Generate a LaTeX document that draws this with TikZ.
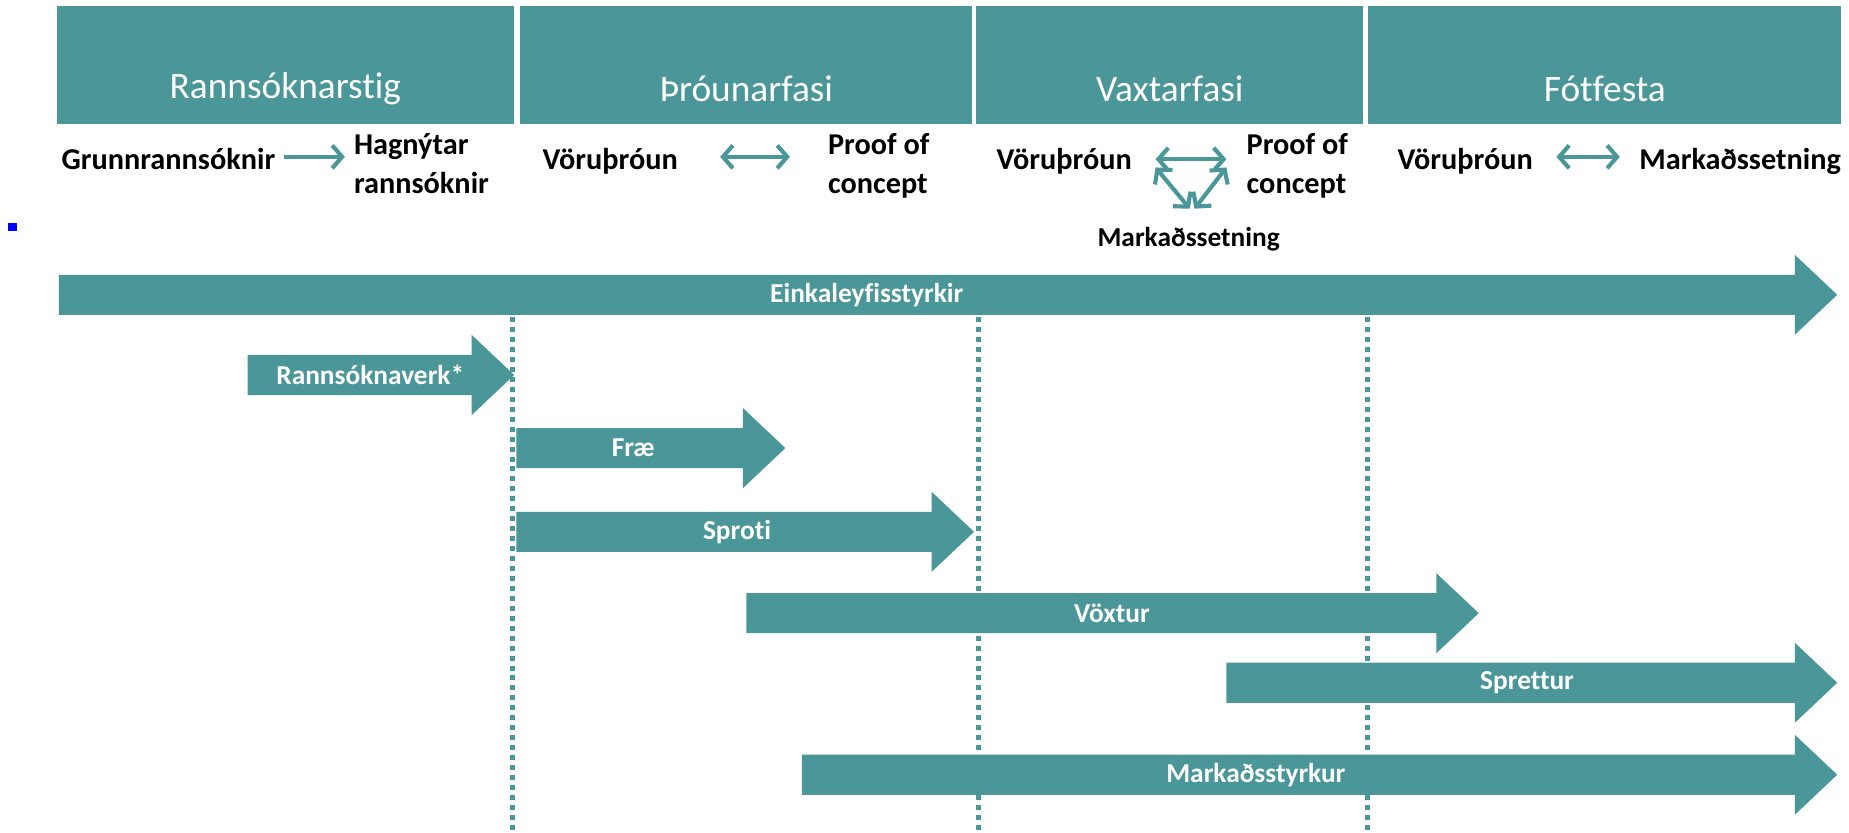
\documentclass[tikz,border=0pt]{standalone}
\usepackage{fontspec}
\setmainfont{Carlito}[Ligatures=NoCommon]
\usetikzlibrary{arrows.meta, positioning}
\definecolor{tealbar}{RGB}{74,150,153}

\begin{document}
\begin{tikzpicture}[x=0.01cm, y=-0.01cm, >={Straight Barb[length=2.4pt, width=5.5pt]},
  phase/.style={text=white, font=\fontsize{9}{10}\selectfont},
  stagetext/.style={font=\bfseries\fontsize{7.3}{9.4}\selectfont, align=left, inner sep=1pt},
  flow/.style={tealbar, line width=1pt},
  barlabel/.style={text=white, font=\bfseries\fontsize{6.6}{7}\selectfont},
  divider/.style={tealbar, line width=1.2pt, dash pattern=on 1.2pt off 1.2pt}]
  \useasboundingbox (0,0) rectangle (1568,706);

  % phases
  \fill[tealbar] (48,5) rectangle (436,105);
  \fill[tealbar] (441,5) rectangle (824,105);
  \fill[tealbar] (828,5) rectangle (1156,105);
  \fill[tealbar] (1160,5) rectangle (1561,105);
  \node[phase] (rann) at (242,75) {Rannsóknarstig};
  \node[phase] (throun) at (633,75) {Þróunarfasi};
  \node[phase] (vaxtar) at (992,75) {Vaxtarfasi};
  \node[phase] (fot) at (1361,75) {Fótfesta};

  \fill[blue] (7,189) rectangle (14,196);

  % what happens in each phase
  \node[stagetext, anchor=west] (grunn) at (48,135) {Grunnrannsóknir};
  \node[stagetext, anchor=west] (hagnyt) at (296,139) {Hagnýtar\\rannsóknir};
  \node[stagetext, anchor=west] (voru1) at (456,137) {Vöruþróun};
  \node[stagetext, anchor=west] (proof1) at (698,141) {Proof of\\concept};
  \node[stagetext, anchor=west] (voru2) at (841,137) {Vöruþróun};
  \node[stagetext, anchor=west] (proof2) at (1053,141) {Proof of\\concept};
  \node[stagetext, font=\bfseries\fontsize{6.6}{8}\selectfont] (mark2) at (1008,203) {Markaðssetning};
  \node[stagetext, anchor=west] (voru3) at (1181,137) {Vöruþróun};
  \node[stagetext, anchor=west] (mark3) at (1386,137) {Markaðssetning};
  \coordinate (tl) at (980,135);
  \coordinate (tr) at (1040,135);
  \coordinate (tb) at (1011,177);

  \draw[flow, ->, shorten <=1pt, shorten >=1pt] (grunn.east |- 0,133) -- (hagnyt.west |- 0,133);
  \draw[flow, <->, shorten <=9pt, shorten >=8pt] (voru1.east |- 0,133) -- (proof1.west |- 0,133);
  \draw[flow, <->] (tl) -- (tr);
  \draw[flow, <->] ([shift={(0,7)}]tl) -- ([shift={(-2,0)}]tb);
  \draw[flow, <->] ([shift={(0,7)}]tr) -- ([shift={(2,0)}]tb);
  \draw[flow, <->, shorten <=4.5pt, shorten >=3.5pt] (voru3.east |- 0,133) -- (mark3.west |- 0,133);

  % phase borders
  \foreach \xx in {435, 830, 1160}
    \draw[divider] (\xx,269) -- (\xx,706);

  % grants
  \foreach \xa/\xb/\yy/\xt/\nm/\lbl in {50/1522/250/735/einka/Einkaleyfisstyrkir,
      210/400/318/314/rannverk/Rannsóknaverk*, 438/630/380/537/frae/Fræ,
      438/790/451/625/sproti/Sproti, 633/1218/520/943/voxtur/Vöxtur,
      1040/1522/579/1295/sprettur/Sprettur, 680/1522/657/1065/markst/Markaðsstyrkur}{
    \fill[tealbar] (\xa,\yy-17) -- (\xb,\yy-17) -- (\xb,\yy-34) -- (\xb+36,\yy)
      -- (\xb,\yy+34) -- (\xb,\yy+17) -- (\xa,\yy+17) -- cycle;
    \node[barlabel] (\nm) at (\xt,\yy) {\lbl};
  }
\end{tikzpicture}
\end{document}
